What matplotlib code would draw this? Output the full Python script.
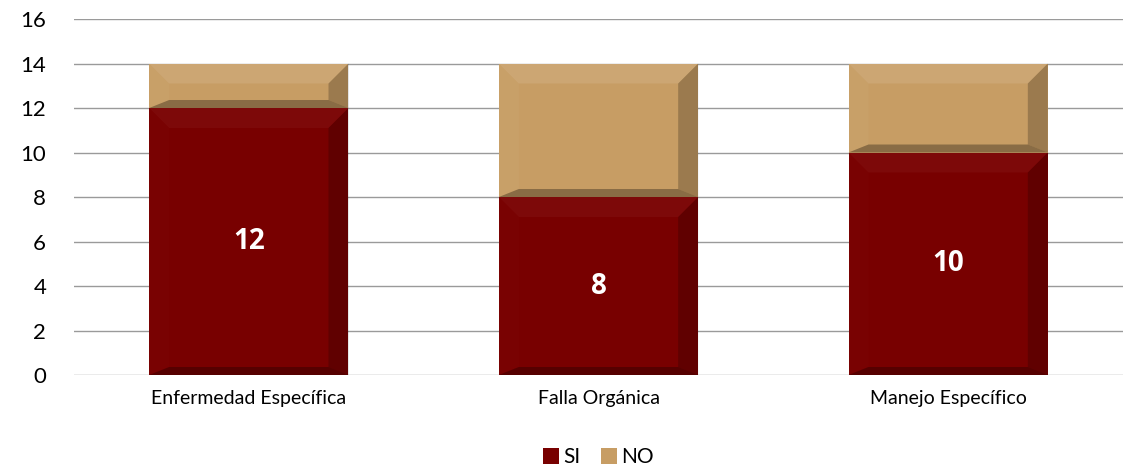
import matplotlib.pyplot as plt
from matplotlib.patches import Polygon

categories = ['Enfermedad Específica', 'Falla Orgánica', 'Manejo Específico']
si_values = [12, 8, 10]
no_values = [2, 6, 4]
si_color = '#780000'
no_color = '#C79D64'

plt.rcParams['font.family'] = ['Lato', 'DejaVu Sans']

fig = plt.figure(figsize=(11.3, 4.67), dpi=100)
ax = fig.add_axes([0.0655, 0.197, 0.9283, 0.7623])

x = list(range(len(categories)))
bar_w = 0.57
bars_si = ax.bar(x, si_values, width=bar_w, color=si_color, label='SI', zorder=2)
bars_no = ax.bar(x, no_values, width=bar_w, bottom=si_values, color=no_color, label='NO', zorder=2)

ax.set_xlim(-0.5, len(categories) - 0.5)
ax.set_ylim(0, 16)
ax.set_yticks(range(0, 17, 2))
ax.set_xticks(x)
ax.set_xticklabels(categories, fontsize=14)
ax.tick_params(axis='y', labelsize=16, length=0, pad=20)
ax.tick_params(axis='x', length=0, pad=11)
ax.yaxis.grid(True, color='#9a9a9a', linewidth=1, zorder=0)
for s in ax.spines.values():
    s.set_visible(False)

# bevel effect, size in pixels converted to data units
fig.canvas.draw()
inv = ax.transData.inverted()
(x0d, y0d), (x1d, y1d) = inv.transform([(0, 0), (20, 20)])
dx, dy = x1d - x0d, y1d - y0d
(_, yb0), (_, yb1) = inv.transform([(0, 0), (0, 8)])
dyb = yb1 - yb0


def bevel(rect, light, dark):
    bx, by = rect.get_x(), rect.get_y()
    bw, bh = rect.get_width(), rect.get_height()
    t = min(dy, bh * 0.45)
    b = min(dyb, bh * 0.2)
    L, R, B, T = bx, bx + bw, by, by + bh
    faces = [
        ([(L, T), (R, T), (R - dx, T - t), (L + dx, T - t)], 'white', light),
        ([(L, B), (L, T), (L + dx, T - t), (L + dx, B + b)], 'white', light * 0.3),
        ([(R, B), (R, T), (R - dx, T - t), (R - dx, B + b)], 'black', dark),
        ([(L, B), (R, B), (R - dx, B + b), (L + dx, B + b)], 'black', dark * 1.4),
    ]
    for pts, c, a in faces:
        ax.add_patch(Polygon(pts, closed=True, facecolor=c, alpha=a, edgecolor='none', zorder=3))


for r in bars_si:
    bevel(r, 0.04, 0.2)
for r in bars_no:
    bevel(r, 0.1, 0.22)

for i, v in enumerate(si_values):
    ax.text(x[i], v / 2, str(v), ha='center', va='center', color='white',
            fontsize=20, fontweight='bold', family=['Open Sans', 'DejaVu Sans'], zorder=4)

ax.legend(loc='upper center', bbox_to_anchor=(0.5, -0.15), ncol=2, frameon=False,
          fontsize=15, handlelength=0.75, handleheight=0.75, handletextpad=0.2, columnspacing=1.0)

fig.savefig('out.png', dpi=100)
